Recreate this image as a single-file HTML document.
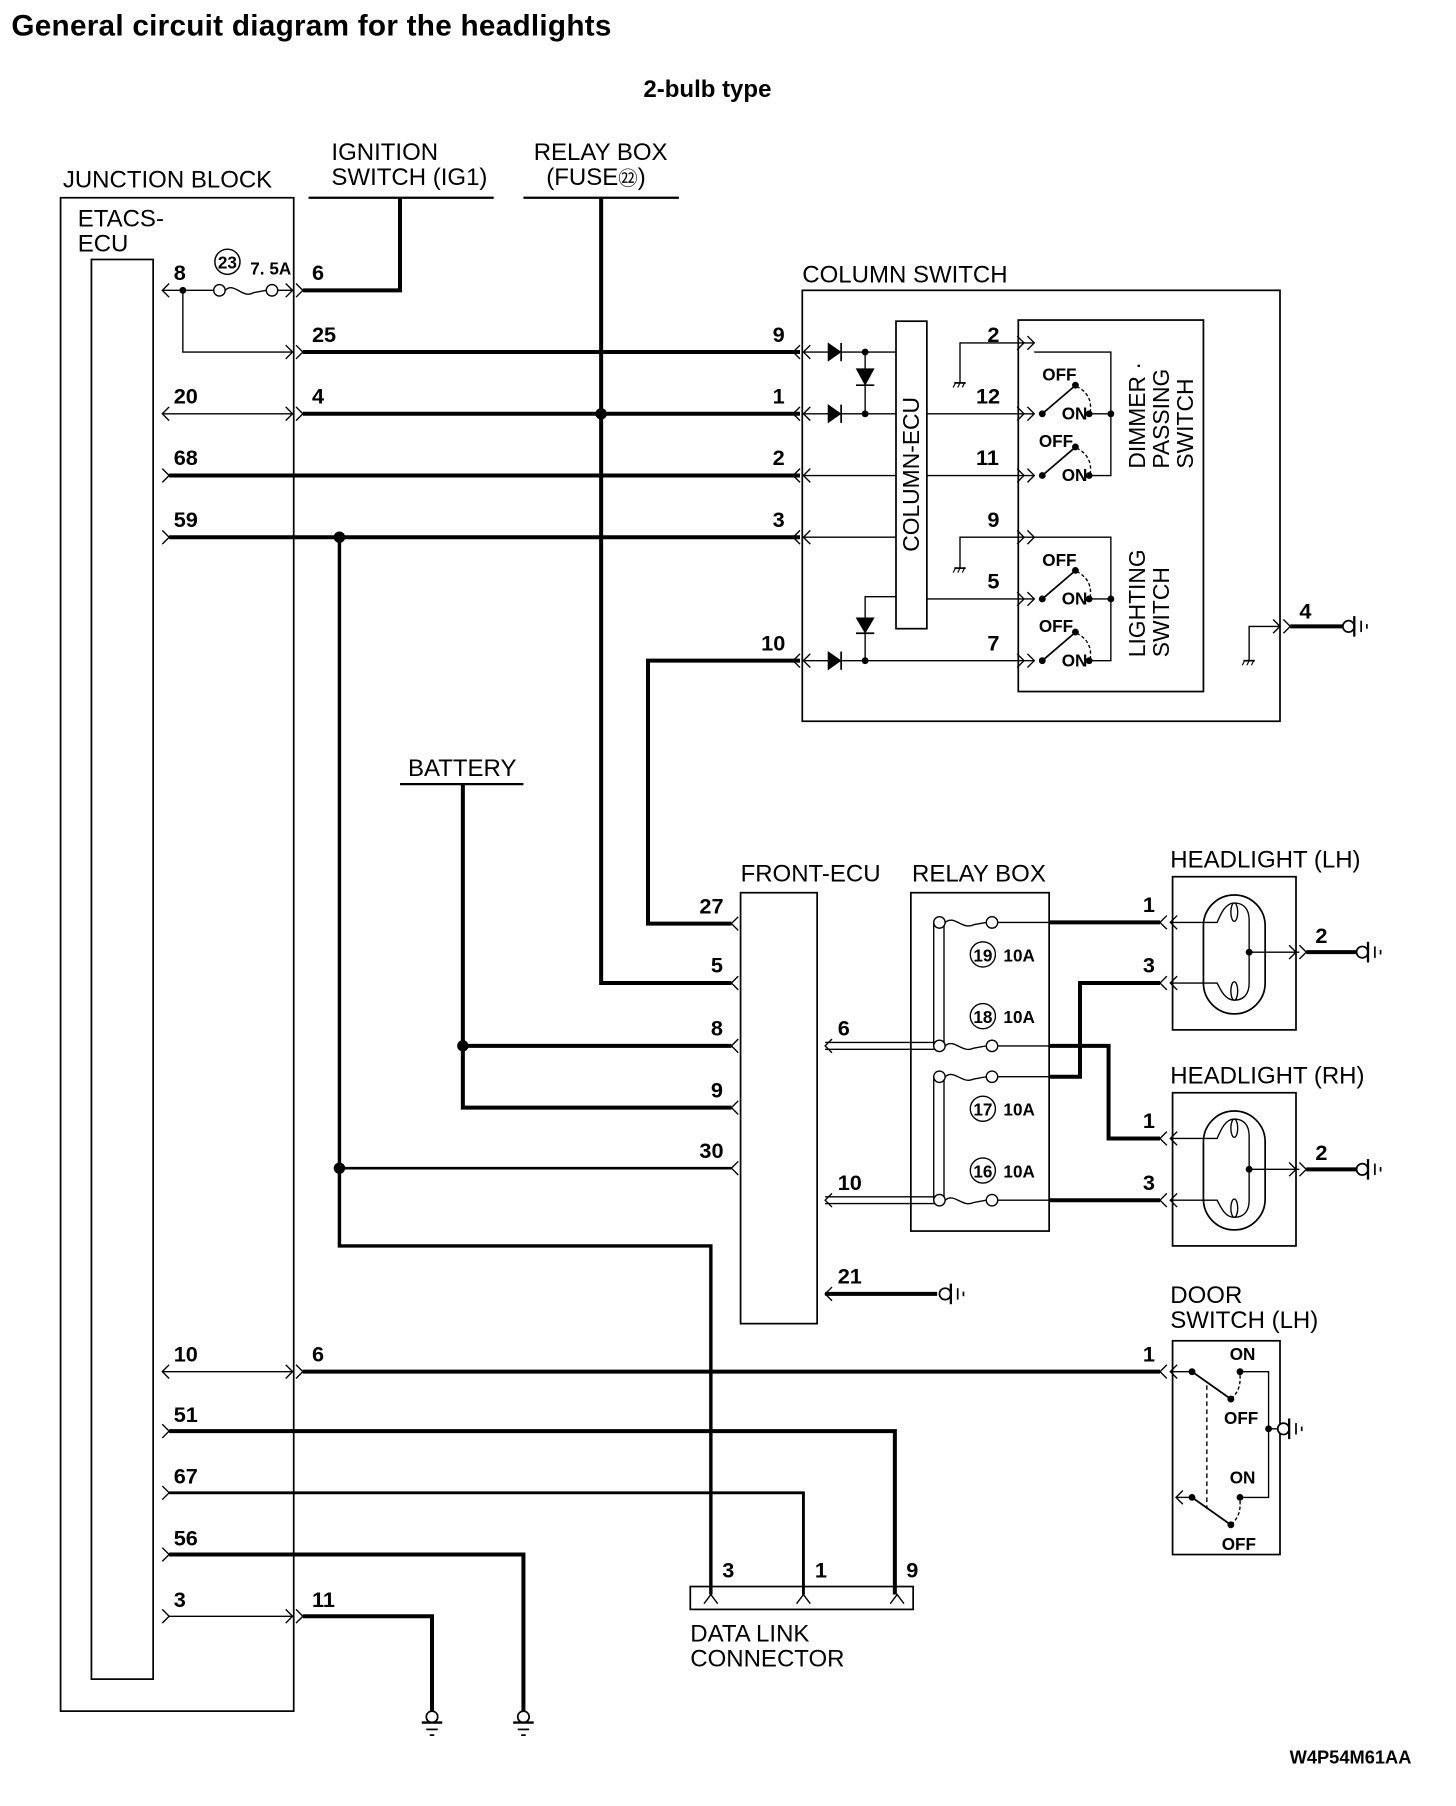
<!DOCTYPE html>
<html><head><meta charset="utf-8"><style>
html,body{margin:0;padding:0;background:#fff}
svg{display:block}
text{font-family:"Liberation Sans",sans-serif;fill:#000}
.lb{font-size:21px}
.pn{font-size:19px;font-weight:bold;font-family:"Liberation Sans Narrow","Liberation Sans",sans-serif}
.sm{font-size:15px;font-weight:bold}
</style></head><body>
<svg width="1456" height="1806" viewBox="0 0 1274 1580" preserveAspectRatio="none" xmlns="http://www.w3.org/2000/svg">
<defs>
<g id="gnd"><circle cx="5" cy="0" r="5" fill="#fff" stroke="#000" stroke-width="1.5"/><line x1="10" y1="-9" x2="10" y2="9" stroke="#000" stroke-width="2"/><line x1="16" y1="-5" x2="16" y2="5" stroke="#000" stroke-width="1.5"/><line x1="21" y1="-2" x2="21" y2="2" stroke="#000" stroke-width="1.5"/></g>
<g id="gndd"><circle cx="0" cy="5" r="5" fill="#fff" stroke="#000" stroke-width="1.5"/><line x1="-9" y1="10" x2="9" y2="10" stroke="#000" stroke-width="2"/><line x1="-5" y1="16" x2="5" y2="16" stroke="#000" stroke-width="1.5"/><line x1="-2" y1="21" x2="2" y2="21" stroke="#000" stroke-width="1.5"/></g>
<g id="sgnd"><line x1="-5" y1="0" x2="5" y2="0" stroke="#000" stroke-width="1.5"/><line x1="-4" y1="0" x2="-6" y2="4" stroke="#000"/><line x1="0" y1="0" x2="-2" y2="4" stroke="#000"/><line x1="4" y1="0" x2="2" y2="4" stroke="#000"/></g>
</defs>
<text x="10" y="31" textLength="525" style="font-size:26px;font-weight:bold">General circuit diagram for the headlights</text>
<text x="619" y="85" text-anchor="middle" style="font-size:21px;font-weight:bold">2-bulb type</text>

<!-- JUNCTION BLOCK -->
<text class="lb" x="55" y="164">JUNCTION BLOCK</text>
<text class="lb" x="68" y="198">ETACS-</text>
<text class="lb" x="68" y="220">ECU</text>
<g fill="none" stroke="#000" stroke-width="1.5">
<rect x="53" y="173" width="204" height="1324"/>
<rect x="80" y="227" width="54" height="1242"/>
</g>
<text class="lb" x="290" y="140">IGNITION</text>
<text class="lb" x="290" y="162">SWITCH (IG1)</text>
<text class="lb" x="467" y="140">RELAY BOX</text>
<text class="lb" x="478" y="162">(FUSE<tspan style="font-size:17px">㉒</tspan>)</text>
<g stroke="#000" fill="none">
<line x1="270" y1="173" x2="432" y2="173" stroke-width="2"/>
<line x1="458" y1="173" x2="594" y2="173" stroke-width="2"/>
<polyline points="265,254 350,254 350,173" stroke-width="3.5"/>
<polyline points="526,173 526,860 640,860" stroke-width="3.5"/>
</g>

<g fill="none" stroke="#000" stroke-width="1.2">
<polyline points="148,248 142,254 148,260"/>
<line x1="142" y1="254" x2="187" y2="254"/>
<circle cx="192" cy="254" r="5"/>
<path d="M197,254 C205,246 212,262 222,256 L233,254"/>
<circle cx="238" cy="254" r="5"/>
<line x1="243" y1="254" x2="257" y2="254"/>
<polyline points="250,248 256,254 250,260"/>
<polyline points="259,248 265,254 259,260"/>
<polyline points="160,254 160,308 256,308"/>
<polyline points="250,302 256,308 250,314"/>
<polyline points="259,302 265,308 259,314"/>
<polyline points="148,356 142,362 148,368"/>
<line x1="142" y1="362" x2="256" y2="362"/>
<polyline points="250,356 256,362 250,368"/>
<polyline points="259,356 265,362 259,368"/>
<polyline points="142,410 148,416 142,422"/>
<polyline points="142,464 148,470 142,476"/>
<polyline points="148,1194 142,1200 148,1206"/>
<line x1="142" y1="1200" x2="256" y2="1200"/>
<polyline points="250,1194 256,1200 250,1206"/>
<polyline points="259,1194 265,1200 259,1206"/>
<polyline points="142,1246 148,1252 142,1258"/>
<polyline points="142,1300 148,1306 142,1312"/>
<polyline points="142,1354 148,1360 142,1366"/>
<polyline points="142,1408 148,1414 142,1420"/>
<line x1="148" y1="1414" x2="256" y2="1414"/>
<polyline points="250,1408 256,1414 250,1420"/>
<polyline points="259,1408 265,1414 259,1420"/>
</g>
<circle cx="160" cy="254" r="3"/>
<circle cx="199" cy="229" r="11" fill="none" stroke="#000" stroke-width="1.3"/>
<text x="199" y="235" text-anchor="middle" style="font-size:15px;font-weight:bold">23</text>
<text class="sm" x="219" y="240">7. 5A</text>

<text class="pn" x="152" y="245">8</text><text class="pn" x="273" y="245">6</text>
<text class="pn" x="273" y="299">25</text>
<text class="pn" x="152" y="353">20</text><text class="pn" x="273" y="353">4</text>
<text class="pn" x="152" y="407">68</text>
<text class="pn" x="152" y="461">59</text>
<text class="pn" x="152" y="1191">10</text><text class="pn" x="273" y="1191">6</text>
<text class="pn" x="152" y="1244">51</text>
<text class="pn" x="152" y="1298">67</text>
<text class="pn" x="152" y="1352">56</text>
<text class="pn" x="152" y="1406">3</text><text class="pn" x="273" y="1406">11</text>

<g fill="none" stroke="#000">
<line x1="265" y1="308" x2="700" y2="308" stroke-width="3.5"/>
<line x1="265" y1="362" x2="700" y2="362" stroke-width="3.5"/>
<line x1="148" y1="416" x2="700" y2="416" stroke-width="3.5"/>
<line x1="148" y1="470" x2="700" y2="470" stroke-width="3.5"/>
<polyline points="297,470 297,1090 622,1090 622,1395" stroke-width="3"/>
<line x1="297" y1="1022" x2="640" y2="1022" stroke-width="2.2"/>
<polyline points="700,578 567,578 567,808 640,808" stroke-width="3.5"/>
<polyline points="405,686 405,969 640,969" stroke-width="3.5"/>
<line x1="405" y1="915" x2="640" y2="915" stroke-width="3.5"/>
<line x1="265" y1="1200" x2="1015" y2="1200" stroke-width="3.5"/>
<polyline points="148,1252 783,1252 783,1395" stroke-width="3.5"/>
<polyline points="148,1306 703,1306 703,1395" stroke-width="2.5"/>
<polyline points="148,1360 458,1360 458,1497" stroke-width="3.5"/>
<polyline points="265,1414 378,1414 378,1497" stroke-width="3.5"/>
<line x1="350" y1="686" x2="458" y2="686" stroke-width="2"/>
</g>
<circle cx="526" cy="362" r="5"/>
<circle cx="297" cy="470" r="5"/>
<circle cx="297" cy="1022" r="5"/>
<circle cx="405" cy="915" r="5"/>
<use href="#gndd" x="378" y="1497"/>
<use href="#gndd" x="458" y="1497"/>
<text class="lb" x="357" y="679">BATTERY</text>

<!-- COLUMN SWITCH -->
<text class="lb" x="702" y="247">COLUMN SWITCH</text>
<g fill="none" stroke="#000" stroke-width="1.5">
<rect x="702" y="254" width="418" height="377"/>
<rect x="784" y="281" width="27" height="269"/>
<rect x="891" y="280" width="162" height="325"/>
</g>
<text transform="translate(804,415) rotate(-90)" text-anchor="middle" style="font-size:20px">COLUMN-ECU</text>
<g fill="none" stroke="#000" stroke-width="1.2">
<polyline points="700,302 694,308 700,314"/><polyline points="709,302 703,308 709,314"/>
<polyline points="700,356 694,362 700,368"/><polyline points="709,356 703,362 709,368"/>
<polyline points="700,410 694,416 700,422"/><polyline points="709,410 703,416 709,422"/>
<polyline points="700,464 694,470 700,476"/><polyline points="709,464 703,470 709,476"/>
<polyline points="700,572 694,578 700,584"/><polyline points="709,572 703,578 709,584"/>
<line x1="703" y1="308" x2="784" y2="308"/>
<line x1="703" y1="362" x2="784" y2="362"/>
<line x1="703" y1="416" x2="784" y2="416"/>
<line x1="703" y1="470" x2="784" y2="470"/>
<line x1="703" y1="578" x2="905" y2="578"/>
<line x1="757" y1="308" x2="757" y2="362"/>
<polyline points="757,578 757,522 784,522"/>
<polyline points="840,335 840,300 905,300"/>
<polyline points="840,497 840,470 905,470"/>
<line x1="811" y1="362" x2="905" y2="362"/>
<line x1="811" y1="416" x2="905" y2="416"/>
<line x1="811" y1="524" x2="905" y2="524"/>
<polyline points="890,294 896,300 890,306"/><polyline points="899,294 905,300 899,306"/>
<polyline points="890,356 896,362 890,368"/><polyline points="899,356 905,362 899,368"/>
<polyline points="890,410 896,416 890,422"/><polyline points="899,410 905,416 899,422"/>
<polyline points="890,464 896,470 890,476"/><polyline points="899,464 905,470 899,476"/>
<polyline points="890,518 896,524 890,530"/><polyline points="899,518 905,524 899,530"/>
<polyline points="890,572 896,578 890,584"/><polyline points="899,572 905,578 899,584"/>
<polyline points="905,308 972,308 972,416 955,416"/>
<line x1="955" y1="362" x2="972" y2="362"/>
<polyline points="905,470 972,470 972,578 955,578"/>
<line x1="955" y1="524" x2="972" y2="524"/>
<line x1="912" y1="362" x2="940" y2="338" stroke-width="1.5"/>
<line x1="912" y1="416" x2="940" y2="392" stroke-width="1.5"/>
<line x1="912" y1="524" x2="940" y2="500" stroke-width="1.5"/>
<line x1="912" y1="578" x2="940" y2="554" stroke-width="1.5"/>
<path d="M942,338 Q956,345 954,360" stroke-dasharray="3,2"/>
<path d="M942,392 Q956,399 954,414" stroke-dasharray="3,2"/>
<path d="M942,500 Q956,507 954,522" stroke-dasharray="3,2"/>
<path d="M942,554 Q956,561 954,576" stroke-dasharray="3,2"/>
<polyline points="1093,578 1093,548 1120,548"/>
<polyline points="1114,542 1120,548 1114,554"/><polyline points="1123,542 1129,548 1123,554"/>
</g>
<line x1="1129" y1="548" x2="1175" y2="548" stroke="#000" stroke-width="3.5"/>
<use href="#gnd" x="1175" y="548"/>
<use href="#sgnd" x="840" y="335"/><use href="#sgnd" x="840" y="497"/><use href="#sgnd" x="1093" y="578"/>
<g fill="#000" stroke="#000" stroke-width="1.5">
<polygon points="725,301 725,315 735,308"/><line x1="736" y1="300" x2="736" y2="316"/>
<polygon points="725,355 725,369 735,362"/><line x1="736" y1="354" x2="736" y2="370"/>
<polygon points="725,571 725,585 735,578"/><line x1="736" y1="570" x2="736" y2="586"/>
<polygon points="750,323 764,323 757,336"/><line x1="749" y1="337" x2="765" y2="337"/>
<polygon points="750,541 764,541 757,553"/><line x1="749" y1="554" x2="765" y2="554"/>
</g>
<g>
<circle cx="757" cy="308" r="3"/><circle cx="757" cy="362" r="3"/><circle cx="757" cy="578" r="3"/>
<circle cx="912" cy="362" r="3"/><circle cx="912" cy="416" r="3"/><circle cx="912" cy="524" r="3"/><circle cx="912" cy="578" r="3"/>
<circle cx="941" cy="337" r="3"/><circle cx="941" cy="391" r="3"/><circle cx="941" cy="499" r="3"/><circle cx="941" cy="553" r="3"/>
<circle cx="953" cy="362" r="3"/><circle cx="953" cy="416" r="3"/><circle cx="953" cy="524" r="3"/><circle cx="953" cy="578" r="3"/>
<circle cx="972" cy="362" r="3"/><circle cx="972" cy="524" r="3"/>
</g>
<text class="sm" x="912" y="333">OFF</text><text class="sm" x="929" y="367">ON</text>
<text class="sm" x="909" y="391">OFF</text><text class="sm" x="929" y="421">ON</text>
<text class="sm" x="912" y="495">OFF</text><text class="sm" x="929" y="529">ON</text>
<text class="sm" x="909" y="553">OFF</text><text class="sm" x="929" y="583">ON</text>
<text transform="translate(1002,410) rotate(-90)" style="font-size:20px">DIMMER ·</text>
<text transform="translate(1023,410) rotate(-90)" style="font-size:20px">PASSING</text>
<text transform="translate(1044,410) rotate(-90)" style="font-size:20px">SWITCH</text>
<text transform="translate(1002,575) rotate(-90)" style="font-size:20px">LIGHTING</text>
<text transform="translate(1023,575) rotate(-90)" style="font-size:20px">SWITCH</text>
<text class="pn" x="676" y="299">9</text><text class="pn" x="676" y="353">1</text>
<text class="pn" x="676" y="407">2</text><text class="pn" x="676" y="461">3</text>
<text class="pn" x="666" y="569">10</text>
<text class="pn" x="864" y="299">2</text><text class="pn" x="854" y="353">12</text>
<text class="pn" x="854" y="407">11</text><text class="pn" x="864" y="461">9</text>
<text class="pn" x="864" y="515">5</text><text class="pn" x="864" y="569">7</text>
<text class="pn" x="1137" y="541">4</text>

<!-- FRONT-ECU -->
<text class="lb" x="648" y="771">FRONT-ECU</text>
<rect x="648" y="781" width="67" height="377" fill="none" stroke="#000" stroke-width="1.5"/>
<g fill="none" stroke="#000" stroke-width="1.2">
<polyline points="646,802 640,808 646,814"/>
<polyline points="646,854 640,860 646,866"/>
<polyline points="646,909 640,915 646,921"/>
<polyline points="646,963 640,969 646,975"/>
<polyline points="646,1016 640,1022 646,1028"/>
<polyline points="728,909 722,915 728,921"/>
<polyline points="728,1044 722,1050 728,1056"/>
<polyline points="728,1126 722,1132 728,1138"/>
<line x1="722" y1="912" x2="820" y2="912"/><line x1="722" y1="918" x2="820" y2="918"/>
<line x1="722" y1="1047" x2="820" y2="1047"/><line x1="722" y1="1053" x2="820" y2="1053"/>
</g>
<line x1="722" y1="1132" x2="820" y2="1132" stroke="#000" stroke-width="3.5"/>
<use href="#gnd" x="822" y="1132"/>
<text class="pn" x="612" y="799">27</text><text class="pn" x="622" y="851">5</text>
<text class="pn" x="622" y="906">8</text><text class="pn" x="622" y="960">9</text>
<text class="pn" x="612" y="1013">30</text>
<text class="pn" x="733" y="906">6</text><text class="pn" x="733" y="1041">10</text>
<text class="pn" x="733" y="1123">21</text>

<!-- RELAY BOX -->
<text class="lb" x="798" y="771">RELAY BOX</text>
<rect x="797" y="781" width="121" height="296" fill="none" stroke="#000" stroke-width="1.5"/>
<g fill="none" stroke="#000" stroke-width="1.2">
<line x1="817" y1="807" x2="817" y2="915"/><line x1="826" y1="807" x2="826" y2="915"/>
<line x1="817" y1="942" x2="817" y2="1050"/><line x1="826" y1="942" x2="826" y2="1050"/>
<circle cx="822" cy="807" r="5" fill="#fff"/><path d="M827,807 C835,800 842,814 852,809 L863,807"/><circle cx="868" cy="807" r="5"/>
<circle cx="822" cy="915" r="5" fill="#fff"/><path d="M827,915 C835,908 842,922 852,917 L863,915"/><circle cx="868" cy="915" r="5"/>
<circle cx="822" cy="942" r="5" fill="#fff"/><path d="M827,942 C835,935 842,949 852,944 L863,942"/><circle cx="868" cy="942" r="5"/>
<circle cx="822" cy="1050" r="5" fill="#fff"/><path d="M827,1050 C835,1043 842,1057 852,1052 L863,1050"/><circle cx="868" cy="1050" r="5"/>
<line x1="873" y1="807" x2="918" y2="807"/><line x1="873" y1="915" x2="918" y2="915"/>
<line x1="873" y1="942" x2="918" y2="942"/><line x1="873" y1="1050" x2="918" y2="1050"/>
<circle cx="860" cy="835" r="11"/><circle cx="860" cy="889" r="11"/>
<circle cx="860" cy="970" r="11"/><circle cx="860" cy="1024" r="11"/>
</g>
<g style="font-size:15px;font-weight:bold" text-anchor="middle">
<text x="860" y="841">19</text><text x="860" y="895">18</text><text x="860" y="976">17</text><text x="860" y="1030">16</text>
</g>
<text class="sm" x="878" y="841">10A</text><text class="sm" x="878" y="895">10A</text>
<text class="sm" x="878" y="976">10A</text><text class="sm" x="878" y="1030">10A</text>
<g fill="none" stroke="#000" stroke-width="3.5">
<line x1="918" y1="807" x2="1015" y2="807"/>
<polyline points="918,942 945,942 945,860 1015,860"/>
<polyline points="918,915 970,915 970,996 1015,996"/>
<line x1="918" y1="1050" x2="1015" y2="1050"/>
</g>

<!-- HEADLIGHTS -->
<text class="lb" x="1024" y="759">HEADLIGHT (LH)</text>
<text class="lb" x="1024" y="948">HEADLIGHT (RH)</text>
<g fill="none" stroke="#000" stroke-width="1.5">
<rect x="1026" y="767" width="108" height="134"/>
<rect x="1026" y="956" width="108" height="134"/>
<rect x="1053" y="783" width="54" height="104" rx="27"/>
<rect x="1053" y="972" width="54" height="104" rx="27"/>
</g>
<g fill="none" stroke="#000" stroke-width="1.2">
<polyline points="1021,801 1015,807 1021,813"/><polyline points="1030,801 1024,807 1030,813"/>
<polyline points="1021,854 1015,860 1021,866"/><polyline points="1030,854 1024,860 1030,866"/>
<polyline points="1021,990 1015,996 1021,1002"/><polyline points="1030,990 1024,996 1030,1002"/>
<polyline points="1021,1044 1015,1050 1021,1056"/><polyline points="1030,1044 1024,1050 1030,1056"/>
<path d="M1024,807 L1065,807 C1068,800 1072,790 1080,790 C1088,790 1093,795 1093,805 L1093,860 C1093,870 1088,875 1080,875 C1072,875 1068,866 1065,860 L1024,860"/>
<ellipse cx="1080" cy="798" rx="3" ry="8"/><ellipse cx="1080" cy="867" rx="3" ry="8"/>
<path d="M1024,996 L1065,996 C1068,989 1072,979 1080,979 C1088,979 1093,984 1093,994 L1093,1050 C1093,1060 1088,1065 1080,1065 C1072,1065 1068,1056 1065,1050 L1024,1050"/>
<ellipse cx="1080" cy="987" rx="3" ry="8"/><ellipse cx="1080" cy="1057" rx="3" ry="8"/>
<line x1="1093" y1="833" x2="1137" y2="833"/>
<line x1="1093" y1="1023" x2="1137" y2="1023"/>
<polyline points="1128,827 1134,833 1128,839"/><polyline points="1137,827 1143,833 1137,839"/>
<polyline points="1128,1017 1134,1023 1128,1029"/><polyline points="1137,1017 1143,1023 1137,1029"/>
</g>
<circle cx="1093" cy="833" r="3"/><circle cx="1093" cy="1023" r="3"/>
<line x1="1143" y1="833" x2="1187" y2="833" stroke="#000" stroke-width="3.5"/>
<line x1="1143" y1="1023" x2="1187" y2="1023" stroke="#000" stroke-width="3.5"/>
<use href="#gnd" x="1187" y="833"/><use href="#gnd" x="1187" y="1023"/>
<text class="pn" x="1000" y="798">1</text><text class="pn" x="1000" y="851">3</text>
<text class="pn" x="1000" y="987">1</text><text class="pn" x="1000" y="1041">3</text>
<text class="pn" x="1151" y="825">2</text><text class="pn" x="1151" y="1015">2</text>

<!-- DOOR SWITCH -->
<text class="lb" x="1024" y="1140">DOOR</text>
<text class="lb" x="1024" y="1162">SWITCH (LH)</text>
<rect x="1026" y="1173" width="94" height="187" fill="none" stroke="#000" stroke-width="1.5"/>
<g fill="none" stroke="#000" stroke-width="1.2">
<polyline points="1021,1194 1015,1200 1021,1206"/><polyline points="1030,1194 1024,1200 1030,1206"/>
<polyline points="1035,1304 1029,1310 1035,1316"/>
<line x1="1024" y1="1200" x2="1043" y2="1200"/>
<line x1="1029" y1="1310" x2="1043" y2="1310"/>
<line x1="1043" y1="1200" x2="1077" y2="1224" stroke-width="1.6"/>
<line x1="1043" y1="1310" x2="1077" y2="1334" stroke-width="1.6"/>
<path d="M1085,1203 Q1086,1215 1079,1222" stroke-dasharray="3,2"/>
<path d="M1085,1313 Q1086,1325 1079,1332" stroke-dasharray="3,2"/>
<line x1="1056" y1="1212" x2="1056" y2="1320" stroke-dasharray="4,3"/>
<polyline points="1085,1200 1110,1200 1110,1310 1085,1310"/>
<line x1="1110" y1="1250" x2="1118" y2="1250"/>
</g>
<circle cx="1043" cy="1200" r="3"/><circle cx="1043" cy="1310" r="3"/>
<circle cx="1085" cy="1200" r="3"/><circle cx="1085" cy="1310" r="3"/>
<circle cx="1077" cy="1224" r="3"/><circle cx="1077" cy="1334" r="3"/>
<circle cx="1110" cy="1250" r="3"/>
<use href="#gnd" x="1118" y="1250"/>
<text class="sm" x="1076" y="1190">ON</text><text class="sm" x="1071" y="1246">OFF</text>
<text class="sm" x="1076" y="1298">ON</text><text class="sm" x="1069" y="1356">OFF</text>
<text class="pn" x="1000" y="1191">1</text>

<!-- DATA LINK -->
<rect x="604" y="1388" width="195" height="20" fill="none" stroke="#000" stroke-width="1.5"/>
<g fill="none" stroke="#000" stroke-width="1.2">
<polyline points="616,1403 622,1395 628,1403"/>
<polyline points="697,1403 703,1395 709,1403"/>
<polyline points="779,1403 785,1395 791,1403"/>
</g>
<text class="pn" x="632" y="1380">3</text><text class="pn" x="713" y="1380">1</text><text class="pn" x="793" y="1380">9</text>
<text class="lb" x="604" y="1436">DATA LINK</text>
<text class="lb" x="604" y="1458">CONNECTOR</text>

<text x="1235" y="1543" text-anchor="end" style="font-size:16px;font-weight:bold">W4P54M61AA</text>
</svg>
</body></html>
